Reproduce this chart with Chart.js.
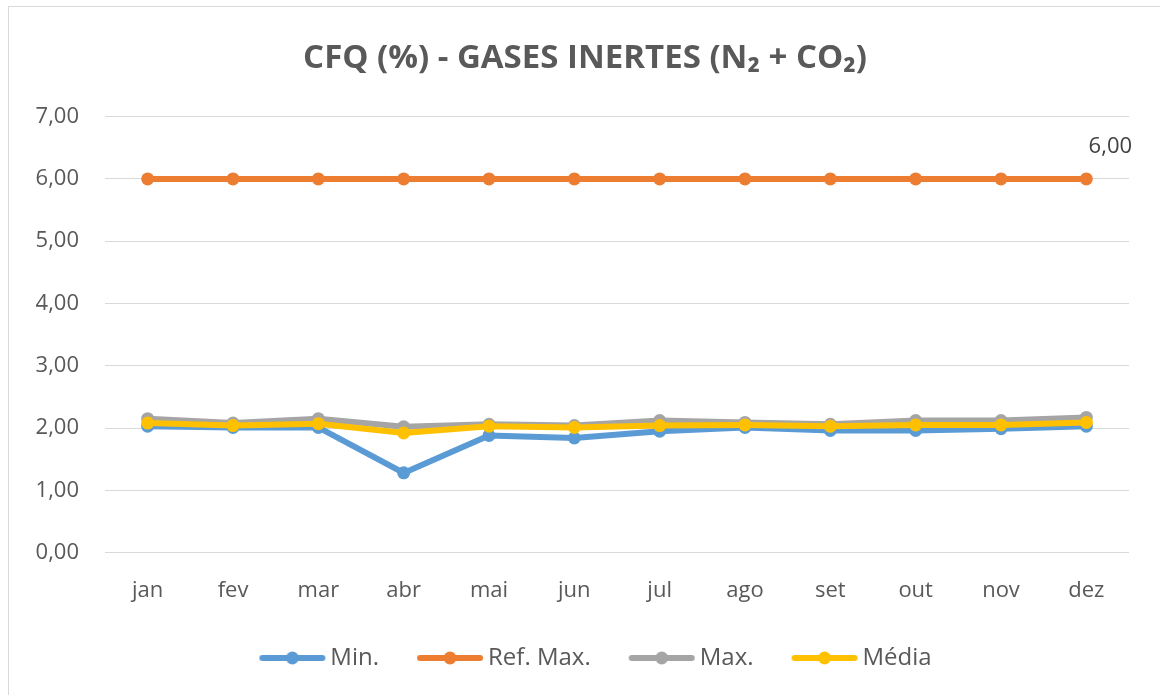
<!DOCTYPE html>
<html>
<head>
<meta charset="utf-8">
<script src="https://cdn.jsdelivr.net/npm/chart.js@4/dist/chart.umd.min.js"></script>
<style>
  html, body { margin: 0; padding: 0; background: #fff; }
  #wrap { position: relative; width: 1160px; height: 695px; }
  #frame { position: absolute; left: 8px; top: 6px; width: 1160px; height: 700px; border: 1px solid #d9d9d9; box-sizing: border-box; pointer-events: none; }
  canvas { position: absolute; left: 0; top: 0; }
</style>
</head>
<body>
<div id="wrap">
  <canvas id="c" width="1160" height="695"></canvas>
  <div id="frame"></div>
</div>
<script>
const categories = ['jan','fev','mar','abr','mai','jun','jul','ago','set','out','nov','dez'];
const minValues   = [2.03, 2.01, 2.01, 1.28, 1.88, 1.84, 1.95, 2.01, 1.96, 1.96, 1.99, 2.03];
const refMaxValues = [6.00, 6.00, 6.00, 6.00, 6.00, 6.00, 6.00, 6.00, 6.00, 6.00, 6.00, 6.00];
const maxValues   = [2.15, 2.08, 2.15, 2.02, 2.06, 2.04, 2.12, 2.09, 2.06, 2.12, 2.12, 2.17];
const mediaValues = [2.08, 2.04, 2.07, 1.92, 2.03, 2.01, 2.04, 2.05, 2.03, 2.05, 2.05, 2.09];
const seriesNames = ['Min.', 'Ref. Max.', 'Max.', 'Média'];
const yTicks = [0, 1, 2, 3, 4, 5, 6, 7];
const titleText = 'CFQ (%) - GASES INERTES (N\u2082 + CO\u2082)';

const colors = ['#5B9BD5', '#ED7D31', '#A5A5A5', '#FFC000'];
const textColor = '#595959';
const fmt = v => v.toFixed(2).replace('.', ',');
const baseFont = '"Open Sans", sans-serif';

// legend icon: line with a round marker, drawn at the right end of a wider image
function legendIcon(color) {
  const cv = document.createElement('canvas');
  cv.width = 96; cv.height = 14;
  const g = cv.getContext('2d');
  g.strokeStyle = color; g.lineWidth = 6; g.lineCap = 'round';
  g.beginPath(); g.moveTo(32, 7); g.lineTo(92, 7); g.stroke();
  g.fillStyle = color;
  g.beginPath(); g.arc(62, 7, 6.5, 0, Math.PI * 2); g.fill();
  return cv;
}

const dataLabelPlugin = {
  id: 'refLabel',
  afterDatasetsDraw(chart) {
    const meta = chart.getDatasetMeta(1);
    const last = meta.data[meta.data.length - 1];
    const ctx = chart.ctx;
    ctx.save();
    ctx.font = '22px ' + baseFont;
    ctx.fillStyle = '#404040';
    ctx.textAlign = 'center';
    ctx.textBaseline = 'middle';
    ctx.fillText(fmt(refMaxValues[refMaxValues.length - 1]), last.x + 24, last.y - 32);
    ctx.restore();
  }
};

const allData = [minValues, refMaxValues, maxValues, mediaValues];
const orders = [4, 3, 2, 1];
const datasets = allData.map((d, i) => ({
  label: seriesNames[i],
  data: d,
  borderColor: colors[i],
  backgroundColor: colors[i],
  borderWidth: 6,
  pointRadius: 6.5,
  pointHoverRadius: 6.5,
  pointBorderWidth: 0,
  pointBackgroundColor: colors[i],
  tension: 0,
  order: orders[i]
}));

new Chart(document.getElementById('c'), {
  type: 'line',
  data: { labels: categories, datasets },
  plugins: [dataLabelPlugin],
  options: {
    responsive: false,
    animation: false,
    devicePixelRatio: 1,
    layout: { padding: { top: 29, right: -10, bottom: 15, left: 0 } },
    plugins: {
      title: {
        display: true,
        text: titleText,
        color: textColor,
        font: { family: baseFont, size: 33, weight: 'bold' },
        padding: { top: 10, bottom: 38 }
      },
      legend: {
        position: 'bottom',
        labels: {
          color: textColor,
          font: { family: baseFont, size: 24 },
          usePointStyle: true,
          pointStyleWidth: 80,
          boxHeight: 14,
          padding: 17,
          generateLabels(chart) {
            return chart.data.datasets.map((ds, i) => ({
              text: ds.label,
              fillStyle: ds.borderColor,
              strokeStyle: ds.borderColor,
              fontColor: textColor,
              lineWidth: 0,
              pointStyle: legendIcon(ds.borderColor),
              hidden: false,
              datasetIndex: i
            }));
          }
        }
      },
      tooltip: { enabled: false }
    },
    scales: {
      x: {
        offset: true,
        grid: { display: false, drawTicks: false },
        border: { display: false },
        ticks: { color: textColor, font: { family: baseFont, size: 22 }, padding: 25 }
      },
      y: {
        min: 0,
        max: 7,
        afterFit(scale) { scale.width = 105; },
        afterBuildTicks(scale) { scale.ticks = yTicks.map(v => ({ value: v })); },
        grid: { color: '#d9d9d9', lineWidth: 1, drawTicks: false },
        border: { display: false },
        ticks: {
          color: textColor,
          font: { family: baseFont, size: 22 },
          padding: 26,
          callback: v => fmt(v)
        }
      },
      spacer: {
        type: 'linear',
        position: 'right',
        display: true,
        afterFit(scale) { scale.width = 41; },
        grid: { display: false, drawTicks: false },
        border: { display: false },
        ticks: { display: false }
      }
    }
  }
});
</script>
</body>
</html>
